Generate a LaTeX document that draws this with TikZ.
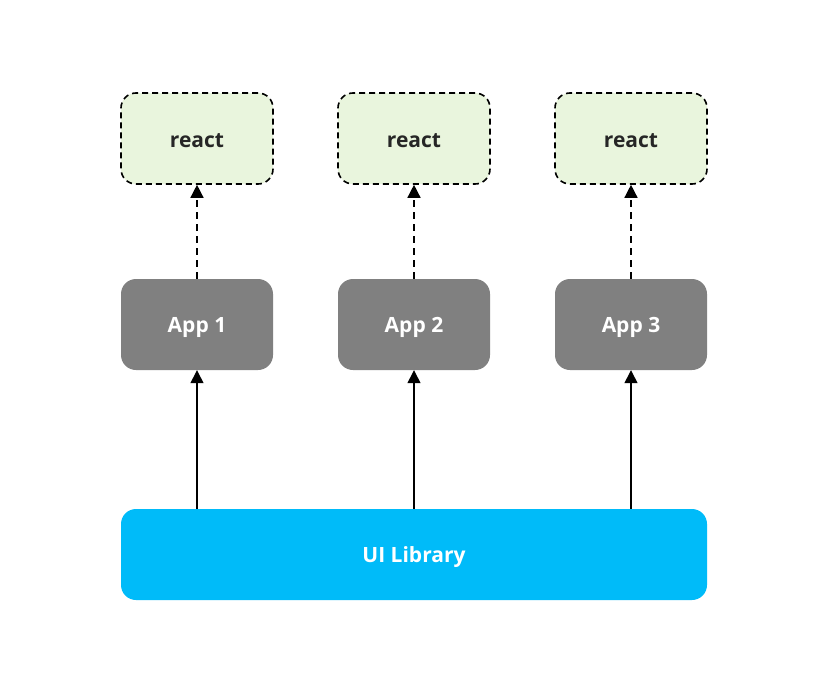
\documentclass[tikz,border=0pt]{standalone}
\usepackage{fontspec}
\setmainfont{Open Sans}
\usetikzlibrary{arrows.meta}
\definecolor{reactfill}{HTML}{E9F5DD}
\definecolor{appfill}{HTML}{808080}
\definecolor{libfill}{HTML}{00BBF9}
\newcommand{\boxlbl}[1]{\raisebox{-2.5pt}[\height][\depth]{#1}}
\begin{document}
\begin{tikzpicture}[x=1pt,y=-1pt,
  box/.style={rounded corners=15pt, minimum width=152pt, minimum height=91pt, inner sep=0pt, font=\fontsize{21}{25}\selectfont\bfseries},
  reactbox/.style={box, draw=black, fill=reactfill, dashed, dash pattern=on 6pt off 4pt, line width=1.6pt, text=black!85},
  appbox/.style={box, fill=appfill, text=white},
  libbox/.style={box, fill=libfill, text=white, minimum width=586pt},
  conn/.style={-{Triangle[length=13pt,width=13pt]}, line width=1.4pt, black},
  dconn/.style={conn, dash pattern=on 7pt off 5pt}
]
\useasboundingbox[fill=white] (0,0) rectangle (828,691);
\node[reactbox] (r1) at (197,138.5) {\boxlbl{react}};
\node[reactbox] (r2) at (414,138.5) {\boxlbl{react}};
\node[reactbox] (r3) at (631,138.5) {\boxlbl{react}};
\node[appbox] (a1) at (197,324.5) {\boxlbl{App 1}};
\node[appbox] (a2) at (414,324.5) {\boxlbl{App 2}};
\node[appbox] (a3) at (631,324.5) {\boxlbl{App 3}};
\node[libbox] (ui) at (414,554.5) {\boxlbl{UI Library}};
\foreach \i in {1,2,3}{
  \draw[dconn] (a\i.north) -- (r\i.south);
  \draw[conn] (a\i.south |- ui.north) -- (a\i.south);
}
\end{tikzpicture}
\end{document}
